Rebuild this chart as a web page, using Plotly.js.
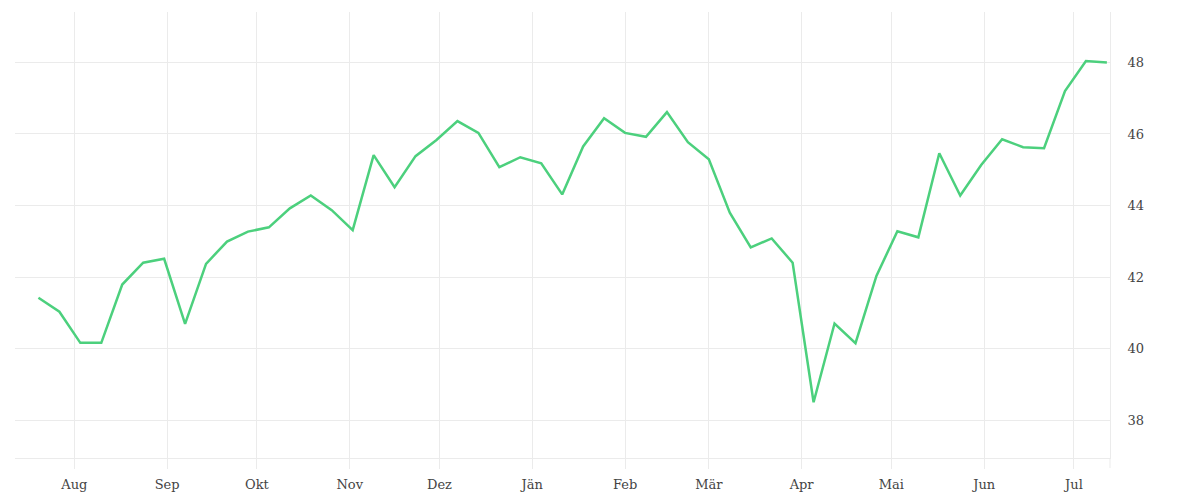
<!DOCTYPE html>
<html>
<head>
<meta charset="utf-8">
<script src="https://cdn.plot.ly/plotly-3.0.1.min.js"></script>
<style>
  html, body { margin: 0; padding: 0; background: #fff; }
  #chart { width: 1200px; height: 500px; }
</style>
</head>
<body>
<div id="chart"></div>
<script>
const weeks = [
  "2018-07-20", "2018-07-27", "2018-08-03", "2018-08-10", "2018-08-17", "2018-08-24",
  "2018-08-31", "2018-09-07", "2018-09-14", "2018-09-21", "2018-09-28", "2018-10-05",
  "2018-10-12", "2018-10-19", "2018-10-26", "2018-11-02", "2018-11-09", "2018-11-16",
  "2018-11-23", "2018-11-30", "2018-12-07", "2018-12-14", "2018-12-21", "2018-12-28",
  "2019-01-04", "2019-01-11", "2019-01-18", "2019-01-25", "2019-02-01", "2019-02-08",
  "2019-02-15", "2019-02-22", "2019-03-01", "2019-03-08", "2019-03-15", "2019-03-22",
  "2019-03-29", "2019-04-05", "2019-04-12", "2019-04-19", "2019-04-26", "2019-05-03",
  "2019-05-10", "2019-05-17", "2019-05-24", "2019-05-31", "2019-06-07", "2019-06-14",
  "2019-06-21", "2019-06-28", "2019-07-05", "2019-07-12"
];

const values = [
  41.42, 41.03, 40.16, 40.16, 41.79, 42.40, 42.51, 40.69, 42.37, 42.99,
  43.27, 43.39, 43.92, 44.28, 43.87, 43.31, 45.41, 44.51, 45.38, 45.83,
  46.36, 46.03, 45.07, 45.35, 45.18, 44.31, 45.65, 46.44, 46.03, 45.92,
  46.61, 45.77, 45.29, 43.80, 42.83, 43.08, 42.40, 38.50, 40.70, 40.15,
  42.03, 43.28, 43.11, 45.46, 44.28, 45.13, 45.85, 45.63, 45.60, 47.20,
  48.04, 48.00
];

const monthTicks = [
  "2018-08-01", "2018-09-01", "2018-10-01", "2018-11-01", "2018-12-01", "2019-01-01",
  "2019-02-01", "2019-03-01", "2019-04-01", "2019-05-01", "2019-06-01", "2019-07-01"
];
const monthLabels = ["Aug", "Sep", "Okt", "Nov", "Dez", "Jän", "Feb", "Mär", "Apr", "Mai", "Jun", "Jul"];

const yTicks = [38, 40, 42, 44, 46, 48];

const gridColor = "#ebebeb";
const fontFamily = "'DejaVu Serif', 'Liberation Serif', serif";

const lineTrace = {
  x: weeks,
  y: values,
  type: "scatter",
  mode: "lines",
  line: { color: "#4cd07d", width: 2.5 },
  hoverinfo: "x+y",
};

const chartLayout = {
  width: 1200,
  height: 500,
  margin: { l: 15, r: 90, t: 12, b: 42 },
  paper_bgcolor: "#fff",
  plot_bgcolor: "#fff",
  showlegend: false,
  font: { family: fontFamily, size: 13, color: "#444" },
  xaxis: {
    type: "date",
    range: ["2018-07-12 04:00", "2019-07-13 01:00"],
    tickmode: "array",
    tickvals: monthTicks,
    ticktext: monthLabels,
    showgrid: true,
    gridcolor: gridColor,
    gridwidth: 1,
    showline: true,
    linecolor: gridColor,
    linewidth: 1,
    ticks: "outside",
    ticklen: 10,
    tickcolor: gridColor,
    tickwidth: 1,
    ticklabelstandoff: 4,
    zeroline: false,
    tickfont: { family: fontFamily, size: 13, color: "#444" },
  },
  yaxis: {
    side: "right",
    range: [36.94, 49.41],
    tickmode: "array",
    tickvals: yTicks,
    showgrid: true,
    gridcolor: gridColor,
    gridwidth: 1,
    showline: true,
    linecolor: gridColor,
    linewidth: 1,
    ticks: "outside",
    ticklen: 14,
    tickcolor: "rgba(0,0,0,0)",
    zeroline: false,
    tickfont: { family: fontFamily, size: 13, color: "#444" },
  },
  shapes: [
    {
      type: "line",
      xref: "paper",
      yref: "paper",
      x0: 1,
      x1: 1,
      y0: -0.0224,
      y1: 0,
      line: { color: gridColor, width: 1 },
    },
  ],
};

const chartConfig = { displayModeBar: false, staticPlot: true };

Plotly.newPlot("chart", [lineTrace], chartLayout, chartConfig);
</script>
</body>
</html>
